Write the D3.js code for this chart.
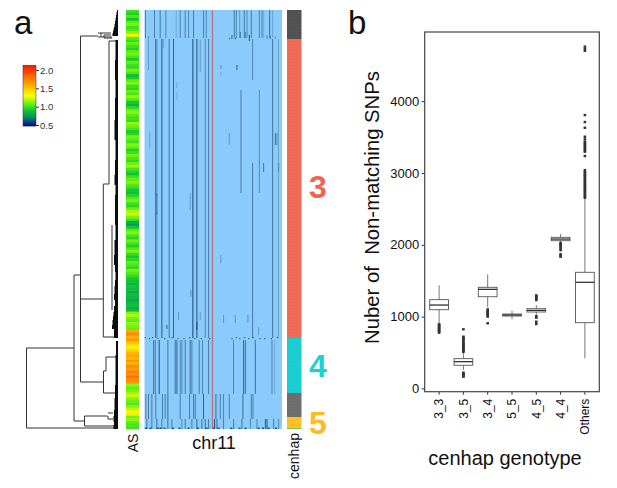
<!DOCTYPE html>
<html><head><meta charset="utf-8">
<script src="https://cdn.jsdelivr.net/npm/d3@7"></script>
<style>html,body{margin:0;padding:0;background:#fff}svg{display:block}text{font-family:"Liberation Sans",Arial,sans-serif}</style>
</head><body><div id="c"></div>
<script>
// ---------- panel a: row annotations
const asValues=[1.0,.93,1.03,.9,1.06,1.1,1.0,1.04,1.14,1.32,1.05,.98,1.08,1.0,.94,1.05,1.1,1.02,.92,1.06,
1.0,.97,1.1,1.03,.86,.92,1.06,1.12,1.0,.96,1.08,1.02,1.14,1.05,.9,.84,.95,1.08,1.12,1.04,
1.0,.98,1.15,1.08,1.02,.92,.96,1.1,1.05,.99,1.12,1.06,.94,1.0,1.1,1.03,.97,1.08,1.16,1.02,
.95,.88,1.0,1.06,1.12,1.04,.98,.9,.86,.94,1.04,1.1,1.0,.96,1.08,1.18,1.22,1.1,1.02,.82,
.76,.9,1.05,1.12,1.02,.96,1.08,1.0,.93,1.04,1.1,.98,.9,.95,1.06,1.02,.96,1.1,1.04,.98,
.92,.88,.84,.9,.86,.82,.88,.85,.8,.84,.88,.82,.86,1.12,1.18,1.1,1.06,1.14,1.1,1.08,
1.62,1.7,1.58,1.66,1.5,1.42,1.36,1.44,1.56,1.62,1.52,1.66,1.58,1.7,1.64,1.74,1.68,1.8,1.72,1.66,
1.14,1.06,1.1,1.16,1.22,1.14,1.08,1.04,1.12,1.2,1.34,1.26,1.1,1.14,1.06,1.02,1.0];
const cenhapNames=["other","3","4","other2","5","minor"];
const cenhapRows=[29,299,55,24,11,1];
const cenhapColors=["#505050","#ef6852","#17cdd0","#6c6c6c","#fbc021","#8cc152"];
const cladeLabels=["3","4","5"], cladeRows=[188,367,424];
// ---------- panel a: heat matrix streaks (col 0-412, row 0-419)
const topCols=[[3,.55],[30,.55],[47,.6],[64,.5],[95,.25],[107,.55],[122,.55],[132,.5],[147,.6],[177,.55],[185,.5],[269,.6],[275,.55],[285,.35],[299,.6],[307,.5],[320,.6],[344,.55],[352,.55],[357,.25],[375,.7],[384,.3]];
const mainCols=[[33,.6],[37,.5],[52,.85],[74,.65],[87,.8],[145,1],[157,.9],[182,.5],[192,.6],[384,.65],[401,.3]];
const cluster4Cols=[[27,.6],[32,.7],[44,.9],[70,.6],[92,.7],[97,.75],[107,.5],[112,.55],[122,.6],[137,.7],[142,.55],[164,.6],[174,.5],[192,.6],[267,.55],[297,.75],[302,.7],[332,.7],[382,.55],[390,.25]];
const gapCols=[[4,.6],[12,.6],[22,.6],[34,.55],[54,.6],[62,.6],[70,.7],[107,.55],[135,.6],[147,.55],[152,.6],[177,.8],[214,.7],[227,.6],[237,.55],[254,.6],[295,.7],[320,.55],[325,.6]];
const bottomCols=[[7,.6],[22,.6],[37,.7],[52,.55],[70,.7],[82,.55],[112,.5],[122,.6],[142,.6],[157,.75],[172,.65],[182,.7],[192,.6],[210,1],[217,.7],[237,.6],[267,.6],[292,.65],[317,.55],[337,.55],[362,.85],[367,.9],[387,.6],[402,.5]];
const partials=[[12,26,60,.35],[167,30,62,.4],[324,29,70,.55],[324,153,328,.6],[289,80,183,.55],[344,80,183,.5],[16,122,138,.3],[37,183,205,.6],[137,183,200,.35],[254,123,135,.4],[392,123,135,.65],[397,123,135,.5],[357,153,162,.65],[402,153,162,.5],[277,55,60,.8],[229,245,253,.4],[139,280,287,.4],[102,302,310,.4],[167,302,310,.4],[237,305,313,.4],[272,305,313,.4],[310,305,313,.4],[67,315,319,.8],[157,312,320,.9],[342,317,325,.35],[97,82,90,.25],[97,72,78,.25],[229,55,59,.4],[229,62,66,.3],[57,29,38,.3],[262,25,29,.7],[287,22,28,.7],[302,22,28,.6],[314,25,31,.9],[367,25,29,.5],[377,26,29,.6],[392,26,29,.4]];
const dotCols=[255,262,272,2,15,24,40,60,82,100,118,135,150,170,195,275,285,300,312,326,346,360,380,398];
const dotRows=[28,328,28,327,328,327,328,328,327,328,328,327,328,328,328,327,328,327,328,327,328,328,328,327];
const floorCols=[4,18,40,48,60,85,105,132,160,186,205,222,260,285,303,342,355,372,394];
const redLineCol=203.5;
// ---------- panel a: dendrogram (height 0-91.5, row 0-419)
const dendroV=[[91.5,338,418],[44,265,411],[37.5,26,372],[33.5,406,416],[9,31,174],[14.7,174,327],[6,215,300],[14.5,361,383],[12,347,361],[20,26,26],[17,23,27],[14,25,28],[10,406,409]];
const dendroH=[[338,44,91.5],[418,2,91.5],[265,37.5,44],[26,20,37.5],[372,14.5,37.5],[289,14.7,37.5],[411,33.5,44],[406,10.5,33.5],[416,1,33.5],[31,0,9],[174,9,14.7],[327,0,14.7],[361,12,14.5],[383,1,14.5],[347,1,12],[23,7,20],[27,6,20],[25,7,14],[28,6,14],[403,5,10],[409,5,10]];
const spineH=[1,1.5,2,2.5,3,3.5,4,4.5,5,5.5,2.5,3,2.5,3,3.5,2.5,3,3.5,2.5,3,3,2.5,3.5,4,3,2.5,3,3.5,4,3,4,4.5,5,5.5,6,4,2,2.5,2.5,3,3.5,3.5,4,4.5,4,4.5];
const spineFrom=[0,2,5,8,11,14,17,19,21,23,30,50,70,88,110,130,150,165,175,185,200,215,230,245,255,262,270,276,284,290,296,302,306,310,315,319,331,345,360,375,388,394,400,406,412,415];
const spineTo=[2,5,8,11,14,17,19,21,23,26,50,70,88,110,130,150,165,175,185,200,215,230,245,255,262,270,276,284,290,296,302,306,310,315,319,328,345,360,375,388,394,400,406,412,415,419];
// ---------- panel a: legend
const legendStops=[.47,.7,.9,1.05,1.3,1.7,2.13];
const legendColors=["#0000b0","#008a60","#10c830","#55ee12","#ffff00","#ff8c00","#ff1500"];
const legendTicks=[.5,1,1.5,2];
// ---------- panel b: box plot
const genotypes=["3_3","3_5","3_4","5_5","4_5","4_4","Others"];
const q1=[1096,322,1277,1008,1064,2057,915];
const med=[1161,372,1380,1022,1087,2080,1478];
const q3=[1236,414,1408,1036,1110,2104,1617];
const lowW=[905,256,1130,962,1022,2030,419];
const highW=[1436,510,1589,1082,1161,2150,2656];
const out33=[776,790,805,820,835,850,865,880,893];
const out35=[163,175,190,205,219,510,525,540,555,570,585,600,615,630,650,670,690,705,720,823];
const out34=[907,1000,1015,1030,1045,1060,1080,1100];
const out55=[];
const out45=[897,929,985,1005,1231,1248,1265,1280,1296];
const out44=[1834,1850,1868,1925,1950,1973,1995,2010,2025];
const outOthers=[2656,2675,2695,2715,2735,2755,2775,2795,2815,2835,2855,2875,2895,2915,2935,2955,2975,2995,3015,3040,3237,3297,3315,3335,3355,3375,3395,3415,3436,3469,3505,3630,3710,3807,4703,4730,4760];
const outliers=[out33,out35,out34,out55,out45,out44,outOthers];
const yTicks=[0,1000,2000,3000,4000];

const W=617,H=488;
const svg=d3.select("#c").append("svg").attr("width",W).attr("height",H).attr("viewBox",`0 0 ${W} ${H}`);
svg.append("rect").attr("width",W).attr("height",H).attr("fill","#fff");
const sans='"Liberation Sans",Arial,sans-serif';

// shared row scale
const rowY=d3.scaleLinear().domain([0,419]).range([10,429]);
// legend colour
const legendColor=d3.scaleLinear().domain(legendStops).range(legendColors);

// dendrogram
const dx=d3.scaleLinear().domain([0,91.5]).range([118,26.5]);
const gD=svg.append("g").attr("fill","none");
gD.selectAll("line.v").data(dendroV).join("line").attr("class","v").attr("x1",d=>dx(d[0])).attr("x2",d=>dx(d[0])).attr("y1",d=>rowY(d[1])).attr("y2",d=>rowY(d[2])).attr("stroke","#333").attr("stroke-width",1);
gD.selectAll("line.h").data(dendroH).join("line").attr("class","h").attr("x1",d=>dx(d[1])).attr("x2",d=>dx(d[2])).attr("y1",d=>rowY(d[0])).attr("y2",d=>rowY(d[0])).attr("stroke","#333").attr("stroke-width",1);
gD.selectAll("rect.s").data(spineH).join("rect").attr("class","s").attr("x",d=>dx(d)).attr("width",d=>dx(0)-dx(d)).attr("y",(d,i)=>rowY(spineFrom[i])).attr("height",(d,i)=>rowY(spineTo[i])-rowY(spineFrom[i])).attr("fill","#0c0c0c");

// legend
const ly=d3.scaleLinear().domain([.5,2]).range([125,70]);
const defs=svg.append("defs");
const grad=defs.append("linearGradient").attr("id","lg").attr("x1",0).attr("x2",0).attr("y1",1).attr("y2",0);
const span=legendStops[legendStops.length-1]-legendStops[0];
legendStops.forEach((s,i)=>grad.append("stop").attr("offset",(s-legendStops[0])/span).attr("stop-color",legendColors[i]));
svg.append("rect").attr("x",23).attr("width",13).attr("y",ly(2.13)).attr("height",ly(.47)-ly(2.13)).attr("fill","url(#lg)").attr("stroke","#333").attr("stroke-width",.5);
const la=svg.append("g").attr("transform","translate(36,0)").call(d3.axisRight(ly).tickValues(legendTicks).tickFormat(d3.format(".1f")).tickSize(3).tickPadding(1));
la.select(".domain").remove();
la.selectAll("line").attr("stroke","#333");
la.selectAll("text").attr("font-size",9.5).attr("font-family",sans).attr("fill","#333");

// AS strip
const asBand=d3.scaleBand().domain(d3.range(asValues.length)).range([10,429]);
svg.append("g").selectAll("rect").data(asValues).join("rect").attr("x",126).attr("width",13).attr("y",(d,i)=>asBand(i)).attr("height",asBand.bandwidth()+.4).attr("fill",d=>legendColor(d));

// heat matrix
const cx=d3.scaleLinear().domain([0,412]).range([144.5,282]);
const heat=d3.scaleLinear().domain([0,1]).range(["#8bcbfb","#17456f"]);
const gH=svg.append("g");
gH.append("rect").attr("x",cx(0)).attr("width",cx(412)-cx(0)).attr("y",rowY(0)).attr("height",rowY(419)-rowY(0)).attr("fill",heat(0));
const colW=cx(3)-cx(0);
function streaks(list,r0,r1){
  gH.append("g").selectAll("rect").data(list).join("rect").attr("x",d=>cx(d[0]-1.5)).attr("width",colW).attr("y",rowY(r0)).attr("height",rowY(r1)-rowY(r0)).attr("fill",d=>heat(d[1]));
}
streaks(topCols,0,28);
streaks(mainCols,29,328);
streaks(cluster4Cols,330,384);
streaks(gapCols,384,409);
streaks(bottomCols,409,419);
gH.append("g").selectAll("rect").data(partials).join("rect").attr("x",d=>cx(d[0]-1.5)).attr("width",colW).attr("y",d=>rowY(d[1])).attr("height",d=>rowY(d[2])-rowY(d[1])).attr("fill",d=>heat(d[3]));
gH.append("g").selectAll("rect").data(dotCols).join("rect").attr("x",d=>cx(d-1.5)).attr("width",colW*1.2).attr("y",(d,i)=>rowY(dotRows[i])).attr("height",1.2).attr("fill",heat(.8));
gH.append("g").selectAll("rect").data(floorCols).join("rect").attr("x",d=>cx(d-3)).attr("width",colW*2).attr("y",rowY(417.6)).attr("height",1.4).attr("fill",heat(1));
gH.append("rect").attr("x",cx(redLineCol)-.6).attr("width",1.3).attr("y",rowY(0)).attr("height",rowY(419)-rowY(0)).attr("fill","#b8737f");

// cenhap strip
const cumRows=d3.cumsum(cenhapRows);
const gC=svg.append("g");
gC.selectAll("rect").data(cenhapRows).join("rect").attr("x",287).attr("width",14.5).attr("y",(d,i)=>rowY(cumRows[i]-d)).attr("height",d=>rowY(d)-rowY(0)).attr("fill",(d,i)=>cenhapColors[i]);
gC.append("g").selectAll("line").data(d3.range(3,417,3)).join("line").attr("x1",287).attr("x2",301.5).attr("y1",d=>rowY(d)).attr("y2",d=>rowY(d)).attr("stroke","#fff").attr("stroke-opacity",.07).attr("stroke-width",.7);

// panel a text
const cladeColor=["#ee6351","#1fd0d2","#fbbd22"];
svg.append("g").selectAll("text").data(cladeLabels).join("text").attr("x",318).attr("text-anchor","middle").attr("y",(d,i)=>rowY(cladeRows[i])).attr("font-size",32).attr("font-weight","bold").attr("fill",(d,i)=>cladeColor[i]).text(d=>d);
svg.append("text").attr("x",14).attr("y",34).attr("font-size",33).attr("fill","#111").text("a");
svg.append("text").attr("x",348).attr("y",34).attr("font-size",33).attr("fill","#111").text("b");
svg.append("text").attr("transform","translate(138,443) rotate(-90)").attr("text-anchor","middle").attr("font-size",14).attr("fill","#111").text("AS");
svg.append("text").attr("x",214).attr("y",449).attr("text-anchor","middle").attr("font-size",18).attr("fill","#111").text("chr11");
svg.append("text").attr("transform","translate(299,456) rotate(-90)").attr("text-anchor","middle").attr("font-size",14).attr("fill","#111").text("cenhap");

// panel b
const px0=424.7,px1=599.3,py0=32,py1=391.7;
const y=d3.scaleLinear().domain([-46,4964]).range([py1,py0]);
const x=d3.scaleBand().domain(genotypes).range([px0,px1]).paddingInner(.23).paddingOuter(.2075);
const bw=x.bandwidth();
const mid=g=>x(g)+bw/2;
const gB=svg.append("g");
genotypes.forEach((g,i)=>{
  const c=mid(g), b=gB.append("g");
  b.append("line").attr("x1",c).attr("x2",c).attr("y1",y(highW[i])).attr("y2",y(lowW[i])).attr("stroke","#777").attr("stroke-width",1);
  b.append("rect").attr("x",x(g)).attr("width",bw).attr("y",y(q3[i])).attr("height",y(q1[i])-y(q3[i])).attr("fill","#fff").attr("stroke","#555").attr("stroke-width",.9);
  b.append("line").attr("x1",x(g)).attr("x2",x(g)+bw).attr("y1",y(med[i])).attr("y2",y(med[i])).attr("stroke","#222").attr("stroke-width",1.2);
  b.selectAll("rect.o").data(outliers[i]).join("rect").attr("class","o").attr("x",c-1.3).attr("width",2.6).attr("y",d=>y(d)-1.2).attr("height",2.4).attr("fill","#333");
});
svg.append("rect").attr("x",px0).attr("y",py0).attr("width",px1-px0).attr("height",py1-py0).attr("fill","none").attr("stroke","#444").attr("stroke-width",1.2);
const ay=svg.append("g").attr("transform",`translate(${px0},0)`).call(d3.axisLeft(y).tickValues(yTicks).tickFormat(d3.format("d")).tickSize(3).tickPadding(2.5));
ay.select(".domain").remove();
ay.selectAll("line").attr("stroke","#333");
ay.selectAll("text").attr("font-size",13).attr("font-family",sans).attr("fill","#111");
const ax=svg.append("g").attr("transform",`translate(0,${py1})`).call(d3.axisBottom(x).tickSize(3));
ax.select(".domain").remove();
ax.selectAll("line").attr("stroke","#333");
ax.selectAll("text").attr("font-size",12).attr("font-family",sans).attr("fill","#111").attr("text-anchor","end").attr("transform","rotate(-90)").attr("x",-7).attr("y",0).attr("dy","0.35em");
svg.append("text").attr("transform","translate(379,207.5) rotate(-90)").attr("text-anchor","middle").attr("font-size",20.3).attr("fill","#111").style("white-space","pre").text("Nuber of  Non-matching SNPs");
svg.append("text").attr("x",505).attr("y",465).attr("text-anchor","middle").attr("font-size",20).attr("fill","#111").text("cenhap genotype");
</script></body></html>
